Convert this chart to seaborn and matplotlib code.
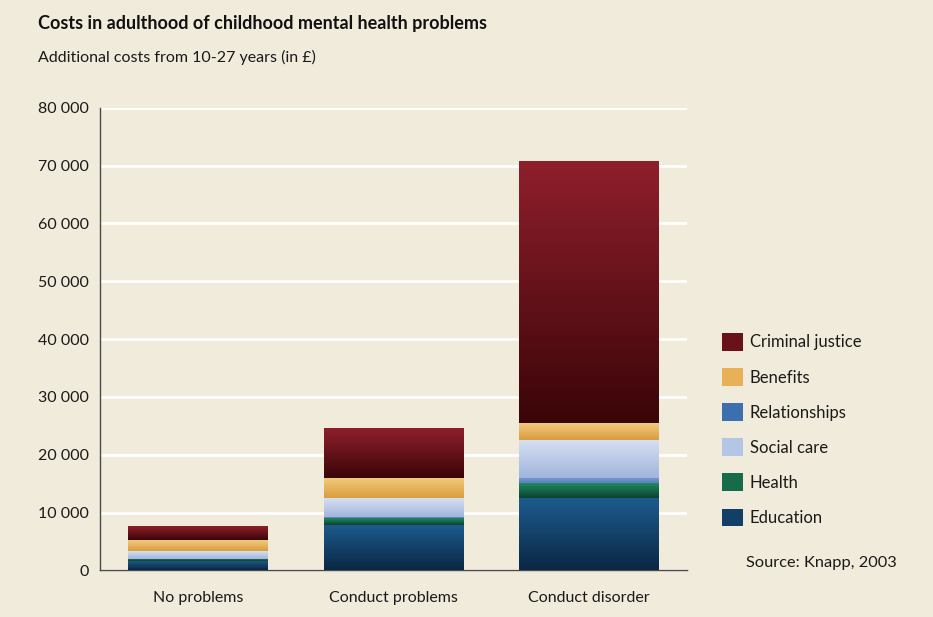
import numpy as np
import matplotlib
matplotlib.use("Agg")
import matplotlib.pyplot as plt
import seaborn as sns
from matplotlib.colors import LinearSegmentedColormap
from matplotlib.patches import Patch
from matplotlib.ticker import FuncFormatter, MultipleLocator

# data (GBP, additional costs age 10-27)
categories = ["No problems", "Conduct problems", "Conduct disorder"]
education = [1590, 7860, 12470]
health = [350, 1160, 2590]
relationships = [100, 200, 860]
social_care = [1310, 3250, 6610]
benefits = [1900, 3450, 2880]
criminal_justice = [2420, 8640, 45130]

# stacked bottom -> top
layers = [
    ("Education", education, "#1d5c8e", "#0a2744"),
    ("Health", health, "#20895f", "#0b4232"),
    ("Relationships", relationships, "#7896d0", "#5a7fc0"),
    ("Social care", social_care, "#d6e0f1", "#a1b5dc"),
    ("Benefits", benefits, "#f2ca7c", "#d99d3e"),
    ("Criminal justice", criminal_justice, "#8f1f2c", "#3a0508"),
]
legend_colors = {
    "Criminal justice": "#6a121a",
    "Benefits": "#e8b158",
    "Relationships": "#3c6fae",
    "Social care": "#b4c6e6",
    "Health": "#156b4a",
    "Education": "#123f66",
}

bg = "#f1ebdb"
sns.set_theme(style="white")
plt.rcParams["font.family"] = ["Lato", "DejaVu Sans"]

fig = plt.figure(figsize=(9.33, 6.17), dpi=100, facecolor=bg)
ax = fig.add_axes([0.1072, 0.0755, 0.629, 0.75])
ax.set_facecolor(bg)

bottoms = np.zeros(len(categories))
tops = []
for name, vals, c_top, c_bot in layers:
    bottoms = bottoms + np.array(vals)
    tops.append(bottoms.copy())

# draw cumulative bars from tallest down so each layer shows its own band
for (name, vals, c_top, c_bot), top in reversed(list(zip(layers, tops))):
    sns.barplot(x=categories, y=top, color=c_bot, saturation=1, width=0.715,
                linewidth=0, ax=ax, zorder=2)

# vertical gradient on each segment
grad = np.linspace(0, 1, 128).reshape(-1, 1)
bar_patches = ax.patches[:len(categories)]
lower = np.zeros(len(categories))
for (name, vals, c_top, c_bot), top in zip(layers, tops):
    cmap = LinearSegmentedColormap.from_list(name, [c_bot, c_top])
    for i, p in enumerate(bar_patches):
        if top[i] - lower[i] <= 0:
            continue
        ax.imshow(grad, extent=(p.get_x(), p.get_x() + p.get_width(), lower[i], top[i]),
                  origin="lower", cmap=cmap, aspect="auto", zorder=3)
    lower = top.copy()

ax.set_xlim(-0.5, 2.5)
ax.set_ylim(0, 80000)
ax.yaxis.set_major_locator(MultipleLocator(10000))
ax.yaxis.set_major_formatter(FuncFormatter(lambda v, _: f"{int(v):,}".replace(",", " ")))
ax.grid(axis="y", color="white", linewidth=2, zorder=0)
ax.set_axisbelow(True)

for s in ["top", "right"]:
    ax.spines[s].set_visible(False)
for s in ["left", "bottom"]:
    ax.spines[s].set_color("#4a4a4a")
    ax.spines[s].set_linewidth(1.0)

ax.set_xticks(range(len(categories)))
ax.set_xticklabels(categories)
ax.set_xticks([0.5, 1.5, 2.5], minor=True)
ax.tick_params(axis="x", which="major", length=0, pad=15, labelsize=11.5, labelcolor="#1a1a1a")
ax.tick_params(axis="x", which="minor", direction="in", length=9, width=1, color="#4a4a4a")
ax.tick_params(axis="y", length=0, pad=8, labelsize=11.5, labelcolor="#1a1a1a")
ax.set_xlabel("")
ax.set_ylabel("")

fig.text(38 / 933, 1 - 23 / 617, "Costs in adulthood of childhood mental health problems",
         fontsize=13, fontweight="bold", color="#111111", va="center", ha="left")
fig.text(38 / 933, 1 - 57 / 617, "Additional costs from 10-27 years (in £)",
         fontsize=11.5, color="#1a1a1a", va="center", ha="left")

handles = [Patch(facecolor=legend_colors[n], edgecolor="none", label=n)
           for n in ["Criminal justice", "Benefits", "Relationships", "Social care", "Health", "Education"]]
leg = fig.legend(handles=handles, loc="upper left", bbox_to_anchor=(707 / 933, 1 - 318 / 617),
                 frameon=False, fontsize=12, handlelength=1.25, handleheight=1.25,
                 labelspacing=1.05, handletextpad=0.4)
for t in leg.get_texts():
    t.set_color("#1a1a1a")

fig.text(746 / 933, 1 - 563 / 617, "Source: Knapp, 2003", fontsize=11.8, color="#1a1a1a",
         va="center", ha="left")

fig.savefig("out.png", dpi=100, facecolor=bg)
